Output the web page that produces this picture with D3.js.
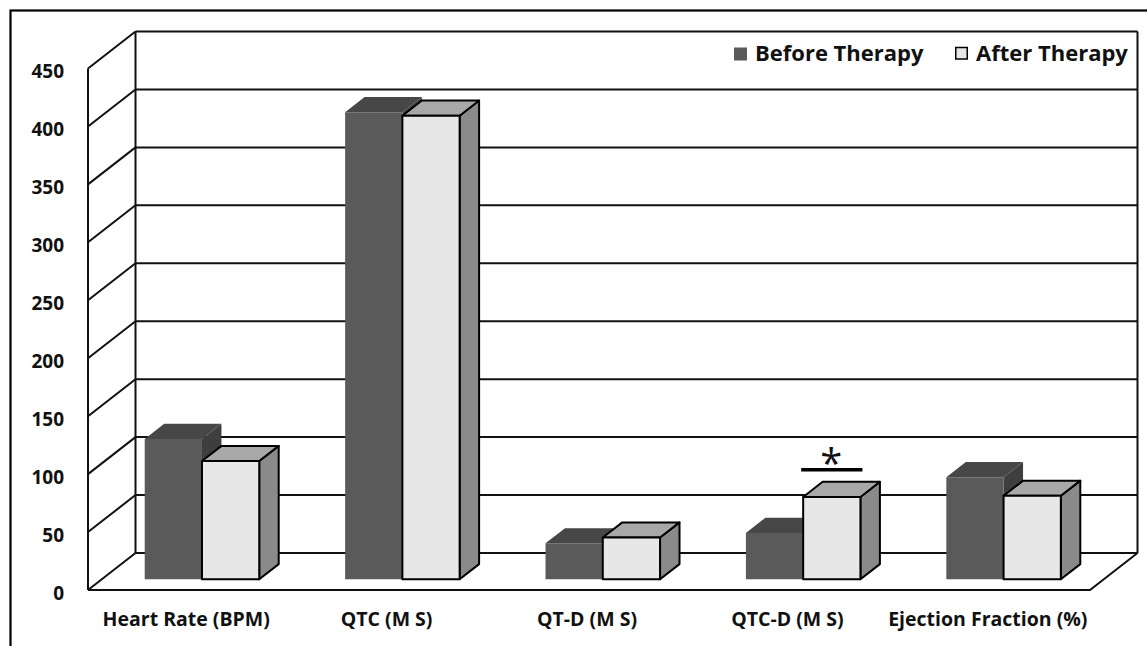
<!DOCTYPE html>
<html>
<head>
<meta charset="utf-8">
<script src="https://cdn.jsdelivr.net/npm/d3@7"></script>
<style>
  html, body { margin: 0; padding: 0; background: #fff; }
  svg { display: block; }
  text { font-family: "Open Sans", "Noto Sans", sans-serif; fill: #111; }
</style>
</head>
<body>
<svg id="chart" width="1147" height="646"></svg>
<script>
// Clinical measures before and after therapy
const categories = ["Heart Rate (BPM)", "QTC (M S)", "QT-D (M S)", "QTC-D (M S)", "Ejection Fraction (%)"];
const seriesNames = ["Before Therapy", "After Therapy"];
const beforeTherapy = [121, 403, 31, 40, 88];
const afterTherapy = [102, 400, 36, 71, 72];
const yTicks = [0, 50, 100, 150, 200, 250, 300, 350, 400, 450];
const significant = ["QTC-D (M S)"];

const svg = d3.select("#chart");

// 3D box geometry: front floor line, plus a depth vector toward the back wall
const floorLeft = 88, floorRight = 1090, floorY = 590;
const depthX = 47.5, depthY = 37;
const barZ0 = 0.29, barZ1 = 0.70;

const x0 = d3.scaleBand().domain(categories).range([floorLeft, floorRight]).padding(0);
const x1 = d3.scaleBand().domain(seriesNames).range([0, x0.bandwidth()])
  .paddingInner(0).paddingOuter(0.75);
const y = d3.scaleLinear().domain([0, 450]).range([0, 521.5]);

// project (x on front plane, value, depth fraction) to screen
function P(x, v, z) {
  return [x + z * depthX, floorY - z * depthY - y(v)];
}
const poly = pts => "M" + pts.map(p => p.join(",")).join("L") + "Z";

// outer frame
svg.append("rect").attr("x", 10.5).attr("y", 10.5).attr("width", 1200).attr("height", 700)
  .attr("fill", "none").attr("stroke", "#000").attr("stroke-width", 2.2);

const grid = svg.append("g").attr("stroke", "#111").attr("stroke-width", 2).attr("fill", "none");

// back wall gridlines and side wall diagonals
yTicks.forEach(t => {
  const a = P(floorLeft, t, 1), b = P(floorRight, t, 1);
  grid.append("line").attr("x1", a[0]).attr("y1", a[1]).attr("x2", b[0]).attr("y2", b[1]);
  const f = P(floorLeft, t, 0);
  grid.append("line").attr("x1", f[0]).attr("y1", f[1]).attr("x2", a[0]).attr("y2", a[1]);
});
// verticals: front-left, back-left, back-right
[[P(floorLeft, 0, 0), P(floorLeft, 450, 0)],
 [P(floorLeft, 0, 1), P(floorLeft, 450, 1)],
 [P(floorRight, 0, 1), P(floorRight, 450, 1)]].forEach(([a, b]) => {
  grid.append("line").attr("x1", a[0]).attr("y1", a[1]).attr("x2", b[0]).attr("y2", b[1]);
});
// floor outline
grid.append("path").attr("d", "M" + [P(floorLeft, 0, 0), P(floorRight, 0, 0), P(floorRight, 0, 1)]
  .map(p => p.join(",")).join("L"));

// y tick labels
svg.append("g").selectAll("text").data(yTicks).join("text")
  .attr("x", 64).attr("y", d => P(floorLeft, d, 0)[1] + 3)
  .attr("dy", "0.36em").attr("text-anchor", "end")
  .attr("font-size", 19).attr("font-weight", 700)
  .text(d => d);

// bars
const styles = {
  "Before Therapy": { front: "#5a5a5a", top: "#474747", side: "#3e3e3e", stroke: "none" },
  "After Therapy": { front: "#e7e7e7", top: "#a8a8a8", side: "#8a8a8a", stroke: "#000" }
};
const barData = [];
categories.forEach((c, i) => {
  barData.push({ cat: c, series: "Before Therapy", value: beforeTherapy[i] });
  barData.push({ cat: c, series: "After Therapy", value: afterTherapy[i] });
});

const bars = svg.append("g");
barData.forEach(d => {
  const xl = x0(d.cat) + x1(d.series), xr = xl + x1.bandwidth();
  const s = styles[d.series];
  const g = bars.append("g").attr("stroke", s.stroke).attr("stroke-width", 2)
    .attr("stroke-linejoin", "round");
  // right side face
  g.append("path").attr("fill", s.side)
    .attr("d", poly([P(xr, 0, barZ0), P(xr, 0, barZ1), P(xr, d.value, barZ1), P(xr, d.value, barZ0)]));
  // top face
  g.append("path").attr("fill", s.top)
    .attr("d", poly([P(xl, d.value, barZ0), P(xr, d.value, barZ0), P(xr, d.value, barZ1), P(xl, d.value, barZ1)]));
  // front face
  g.append("path").attr("fill", s.front)
    .attr("d", poly([P(xl, 0, barZ0), P(xr, 0, barZ0), P(xr, d.value, barZ0), P(xl, d.value, barZ0)]));
});

// significance marker over the after-therapy bar
significant.forEach(c => {
  const i = categories.indexOf(c);
  const xl = x0(c) + x1("After Therapy");
  const top = P(xl, afterTherapy[i], barZ1)[1];
  const a = P(xl, afterTherapy[i], barZ0);
  const lineY = top - 12;
  svg.append("line").attr("x1", a[0] - 2).attr("x2", a[0] + x1.bandwidth() + 2)
    .attr("y1", lineY).attr("y2", lineY).attr("stroke", "#000").attr("stroke-width", 3.5);
  svg.append("text").attr("x", a[0] + x1.bandwidth() / 2 - 0.5).attr("y", lineY + 8)
    .attr("text-anchor", "middle").attr("font-size", 40).attr("font-weight", 400)
    .text("*");
});

// category labels
svg.append("g").selectAll("text").data(categories).join("text")
  .attr("x", d => x0(d) + x0.bandwidth() / 2 - 2).attr("y", 626)
  .attr("text-anchor", "middle").attr("font-size", 19.5).attr("font-weight", 700)
  .text(d => d);

// legend
const legend = svg.append("g");
const legendItems = [
  { name: "Before Therapy", x: 734 },
  { name: "After Therapy", x: 955 }
];
legendItems.forEach(it => {
  const s = styles[it.name];
  legend.append("rect").attr("x", it.x + (s.stroke === "none" ? 0 : 0.75)).attr("y", 47.5)
    .attr("width", s.stroke === "none" ? 13 : 11.5).attr("height", s.stroke === "none" ? 13 : 11.5)
    .attr("fill", s.front).attr("stroke", s.stroke).attr("stroke-width", 1.5);
  legend.append("text").attr("x", it.x + 21).attr("y", 61)
    .attr("font-size", 22).attr("font-weight", 700).text(it.name);
});
</script>
</body>
</html>
